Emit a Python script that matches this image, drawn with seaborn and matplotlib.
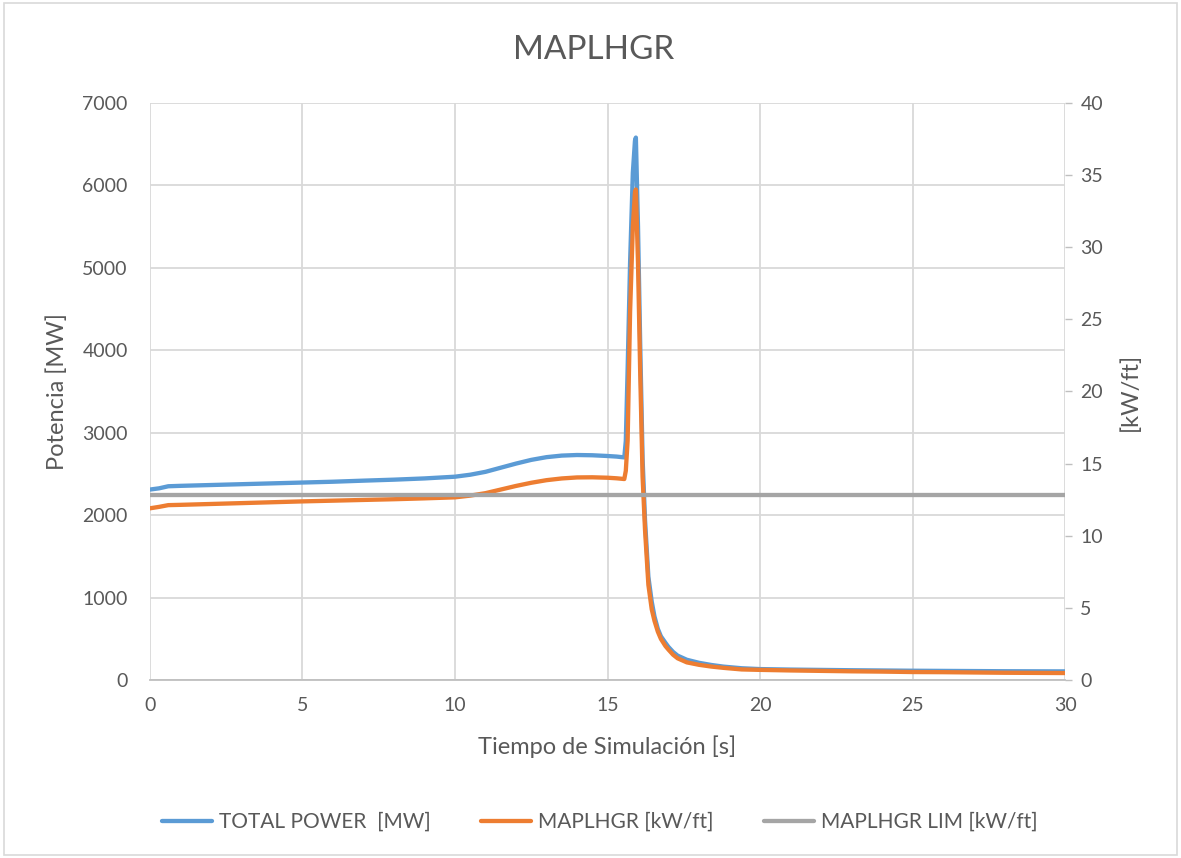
import matplotlib

matplotlib.use("Agg")
import matplotlib.pyplot as plt
import pandas as pd
import seaborn as sns
from matplotlib.patches import Rectangle

# tiempo de simulacion [s]
tiempo = [
    0, 0.3, 0.6, 1.0, 2, 3, 4, 5, 6, 7, 8, 9, 10, 10.5, 11, 11.5, 12, 12.5,
    13, 13.5, 14, 14.5, 15, 15.3, 15.55, 15.6, 15.66, 15.74, 15.83, 15.9,
    15.93, 16.0, 16.07, 16.15, 16.23, 16.34, 16.45, 16.54, 16.65, 16.75,
    16.9, 17.0, 17.15, 17.3, 17.6, 18.0, 18.4, 18.8, 19.4, 20, 21, 22, 23,
    24, 25, 26, 27, 28, 29, 30,
]
# TOTAL POWER [MW]
total_power = [
    2310, 2325, 2350, 2355, 2365, 2375, 2385, 2395, 2405, 2418, 2430, 2445,
    2466, 2490, 2525, 2575, 2625, 2670, 2703, 2722, 2729, 2726, 2717, 2710,
    2700, 2900, 3770, 5060, 6150, 6540, 6580, 5500, 4110, 2690, 1940, 1250,
    950, 770, 620, 530, 450, 400, 340, 295, 245, 208, 182, 162, 142, 132,
    126, 122, 118, 115, 112, 110, 108, 106, 105, 104,
]
# MAPLHGR [kW/ft]
maplhgr = [
    11.9, 12.0, 12.12, 12.14, 12.2, 12.26, 12.32, 12.38, 12.43, 12.48, 12.53,
    12.59, 12.66, 12.78, 12.95, 13.2, 13.45, 13.67, 13.85, 13.97, 14.04,
    14.05, 14.02, 13.98, 13.93, 14.5, 16.6, 25.5, 31.4, 33.8, 34.0, 28.9,
    21.5, 14.1, 10.4, 6.6, 4.9, 4.1, 3.35, 2.85, 2.35, 2.1, 1.75, 1.5, 1.22,
    1.05, 0.93, 0.84, 0.73, 0.7, 0.66, 0.63, 0.6, 0.58, 0.55, 0.54, 0.52,
    0.5, 0.49, 0.48,
]
# MAPLHGR LIM [kW/ft]
lim_tiempo = [0, 30]
lim_valor = [12.8, 12.8]

df = pd.DataFrame({"t": tiempo, "power": total_power, "maplhgr": maplhgr})
df_lim = pd.DataFrame({"t": lim_tiempo, "lim": lim_valor})

sns.set_style("white")
plt.rcParams["font.family"] = ["Lato", "DejaVu Sans"]
txt = "#595959"
grid = "#d9d9d9"

fig = plt.figure(figsize=(11.81, 8.58), dpi=100)
ax = fig.add_axes([0.127, 0.2075, 0.7748, 0.6725])
ax2 = ax.twinx()

sns.lineplot(data=df, x="t", y="power", ax=ax, color="#5B9BD5", lw=3.1,
             estimator=None, sort=False, label="TOTAL POWER  [MW]", legend=False)
sns.lineplot(data=df, x="t", y="maplhgr", ax=ax2, color="#ED7D31", lw=3.1,
             estimator=None, sort=False, label="MAPLHGR [kW/ft]", legend=False)
sns.lineplot(data=df_lim, x="t", y="lim", ax=ax2, color="#A5A5A5", lw=3.1,
             estimator=None, sort=False, label="MAPLHGR LIM [kW/ft]", legend=False)

ax.set_xlim(0, 30)
ax.set_ylim(0, 7000)
ax2.set_ylim(0, 40)
ax.set_xticks(range(0, 31, 5))
ax.set_yticks(range(0, 7001, 1000))
ax2.set_yticks(range(0, 41, 5))

ax.grid(True, color=grid, lw=1.3)
ax.set_axisbelow(True)
for a in (ax, ax2):
    for s in a.spines.values():
        s.set_visible(False)
ax.spines["bottom"].set_visible(True)
ax.spines["bottom"].set_color("#bfbfbf")
ax.spines["bottom"].set_linewidth(1.3)

ax.tick_params(axis="both", length=0, labelsize=14, labelcolor=txt)
ax.tick_params(axis="y", pad=16)
ax.tick_params(axis="x", pad=12)
ax2.tick_params(axis="y", length=5, width=1, color="#bfbfbf", labelsize=14,
                labelcolor=txt, pad=6)

ax.set_xlabel("Tiempo de Simulación [s]", fontsize=17, color=txt, labelpad=16)
ax.set_ylabel("Potencia [MW]", fontsize=17, color=txt, labelpad=10)
ax2.set_ylabel("[kW/ft]", fontsize=17, color=txt, rotation=90, labelpad=12)

fig.text(0.503, 0.942, "MAPLHGR", ha="center", va="center", fontsize=24,
         color=txt)

h1, l1 = ax.get_legend_handles_labels()
h2, l2 = ax2.get_legend_handles_labels()
fig.legend(h1 + h2, l1 + l2, loc="center", bbox_to_anchor=(0.508, 0.042),
           ncol=3, frameon=False, fontsize=15, labelcolor=txt,
           handlelength=2.4, handletextpad=0.35, columnspacing=2.4)

fig.patches.append(Rectangle((0.003, 0.004), 0.994, 0.992, fill=False,
                             edgecolor=grid, lw=1.2, transform=fig.transFigure))

fig.savefig("out.png", dpi=100)
